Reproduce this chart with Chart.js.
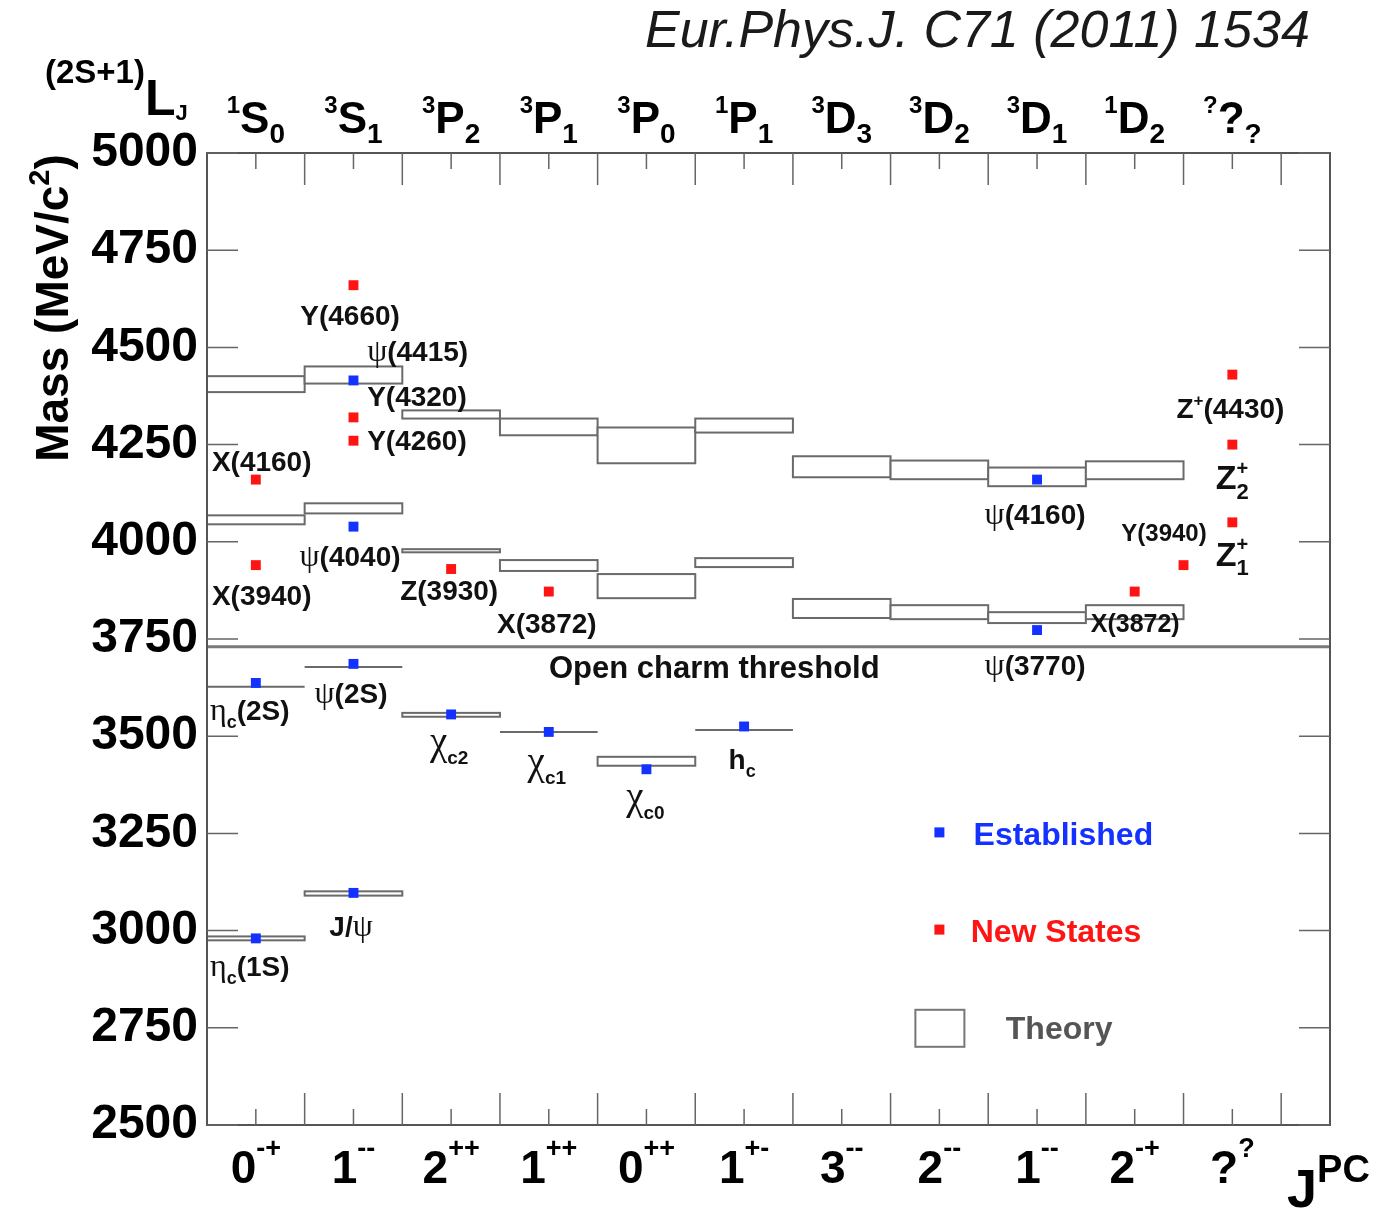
<!DOCTYPE html>
<html>
<head>
<meta charset="utf-8">
<title>Spectre du charmonium</title>
<script src="https://cdn.jsdelivr.net/npm/chart.js@4.4.1/dist/chart.umd.min.js"></script>
<style>
    html, body { margin: 0; padding: 0; background: #fff; }
    #cadre { width: 1391px; height: 1209px; }
</style>
</head>
<body>
<div id="cadre"><canvas id="spectre" width="1391" height="1209"></canvas></div>
<script>
// Colonnes : nombres quantiques J^PC (bas) et notation spectroscopique (haut)
const colonnesJPC = ['0^{-+}', '1^{--}', '2^{++}', '1^{++}', '0^{++}', '1^{+-}', '3^{--}', '2^{--}', '1^{--}', '2^{-+}', '?^{?}'];
const colonnesTerme = ['^{1}S_{0}', '^{3}S_{1}', '^{3}P_{2}', '^{3}P_{1}', '^{3}P_{0}', '^{1}P_{1}', '^{3}D_{3}', '^{3}D_{2}', '^{3}D_{1}', '^{1}D_{2}', '^{?}?_{?}'];

// Axe des masses (MeV/c²)
const masseMin = 2500;
const masseMax = 5000;
const massePas = 250;

// États établis (position en colonne, masse)
const etablisColonne = [0.5, 0.5, 1.5, 1.5, 1.5, 1.5, 2.5, 3.5, 4.5, 5.5, 8.5, 8.5];
const etablisMasse = [2980, 3637, 3097, 3686, 4039, 4415, 3556, 3511, 3415, 3525, 3773, 4160];

// Nouveaux états
const nouveauxColonne = [0.5, 0.5, 1.5, 1.5, 1.5, 2.5, 3.5, 9.5, 10, 10.5, 10.5, 10.5];
const nouveauxMasse = [3940, 4160, 4260, 4320, 4660, 3930, 3872, 3872, 3940, 4430, 4250, 4050];

// Prédictions théoriques : colonne, masse basse, masse haute
const theorieColonne = [0, 0, 0, 0, 1, 1, 1, 1, 2, 2, 2, 3, 3, 3, 4, 4, 4, 5, 5, 5, 6, 6, 7, 7, 8, 8, 9, 9];
const theorieBas = [2975, 3627, 4045, 4385, 3090, 3678, 4073, 4407, 3550, 3973, 4317, 3511, 3925, 4274, 3424, 3855, 4202, 3516, 3935, 4281, 3804, 4166, 3801, 4161, 3791, 4143, 3801, 4161];
const theorieHaut = [2985, 3627, 4068, 4426, 3101, 3678, 4099, 4451, 3560, 3981, 4338, 3511, 3953, 4317, 3447, 3917, 4294, 3516, 3958, 4317, 3853, 4220, 3837, 4209, 3819, 4191, 3837, 4207];

// Seuil de production de charme ouvert
const seuilCharme = 3730;

// Étiquettes des états (colonne, masse du centre du texte)
const etiquettes = [
    { texte: 'Y(4660)', x: 1.465, m: 4584, align: 'center' },
    { texte: 'ψ(4415)', x: 1.64, m: 4492, align: 'left' },
    { texte: 'Y(4320)', x: 1.64, m: 4376, align: 'left' },
    { texte: 'Y(4260)', x: 1.64, m: 4263, align: 'left' },
    { texte: 'X(4160)', x: 0.05, m: 4209, align: 'left' },
    { texte: 'ψ(4040)', x: 1.465, m: 3963, align: 'center' },
    { texte: 'X(3940)', x: 0.05, m: 3863, align: 'left' },
    { texte: 'Z(3930)', x: 2.48, m: 3876, align: 'center' },
    { texte: 'X(3872)', x: 3.48, m: 3791, align: 'center' },
    { texte: 'η_{c}(2S)', x: 0.03, m: 3568, align: 'left' },
    { texte: 'ψ(2S)', x: 1.475, m: 3611, align: 'center' },
    { texte: 'χ_{c2}', x: 2.48, m: 3485, align: 'center', taille: 34 },
    { texte: 'χ_{c1}', x: 3.48, m: 3434, align: 'center', taille: 34 },
    { texte: 'χ_{c0}', x: 4.49, m: 3344, align: 'center', taille: 34 },
    { texte: 'h_{c}', x: 5.48, m: 3442, align: 'center' },
    { texte: 'J/ψ', x: 1.475, m: 3013, align: 'center' },
    { texte: 'η_{c}(1S)', x: 0.03, m: 2908, align: 'left' },
    { texte: 'ψ(4160)', x: 8.48, m: 4071, align: 'center' },
    { texte: 'ψ(3770)', x: 8.48, m: 3683, align: 'center' },
    { texte: 'X(3872)', x: 9.05, m: 3791, align: 'left', taille: 25 },
    { texte: 'Y(3940)', x: 9.8, m: 4025, align: 'center', taille: 24 },
    { texte: 'Z^{+}(4430)', x: 10.48, m: 4345, align: 'center' },
    { texte: 'Z^{+}_{2}', x: 10.5, m: 4166, align: 'center', taille: 34 },
    { texte: 'Z^{+}_{1}', x: 10.5, m: 3970, align: 'center', taille: 34 },
    { texte: 'Open charm threshold', x: 5.195, m: 3678, align: 'center', taille: 31 }
];

const couleurEtabli = '#1432ff';
const couleurNouveau = '#ff1414';

// Découpage d'un texte avec exposants ^{..} et indices _{..}
function decouperTexte(str) {
    const morceaux = [];
    let i = 0;
    while (i < str.length) {
        if ((str[i] === '^' || str[i] === '_') && str[i + 1] === '{') {
            const fin = str.indexOf('}', i);
            morceaux.push({ t: str.slice(i + 2, fin), mode: str[i] === '^' ? 'sup' : 'sub' });
            i = fin + 1;
        } else {
            let j = i;
            while (j < str.length && !((str[j] === '^' || str[j] === '_') && str[j + 1] === '{')) j++;
            morceaux.push({ t: str.slice(i, j), mode: 'n' });
            i = j;
        }
    }
    return morceaux;
}

// Dessin d'un texte riche (grec en police serif, le reste en gras)
function texteRiche(ctx, str, x, y, o) {
    const taille = o.taille || 28;
    const supEch = o.supEch || 0.62, supMonte = o.supMonte || 0.45;
    const subEch = o.subEch || 0.62, subDescend = o.subDescend || 0.25;
    const sx = o.sx || 1;
    const pieces = [];
    let cx = 0, debutSup = 0, finSup = 0, modePrec = 'n';
    for (const m of decouperTexte(str)) {
        let t = taille, dy = 0;
        if (m.mode === 'sup') { t = taille * supEch; dy = -taille * supMonte; }
        if (m.mode === 'sub') { t = taille * subEch; dy = taille * subDescend; }
        if (m.mode === 'sub' && modePrec === 'sup') cx = debutSup;
        const debut = cx;
        const segments = m.t.match(/[\u0370-\u03ff]+|[^\u0370-\u03ff]+/g) || [];
        for (const seg of segments) {
            const grec = /[\u0370-\u03ff]/.test(seg);
            const police = grec
                ? `${Math.round(t * 1.15)}px "Liberation Serif", "DejaVu Serif", serif`
                : `${o.style || 'bold'} ${Math.round(t)}px "Liberation Sans", Arial, sans-serif`;
            ctx.font = police;
            const w = ctx.measureText(seg).width;
            pieces.push({ seg, police, x: cx, dy });
            cx += w;
        }
        if (m.mode === 'sup') { debutSup = debut; finSup = cx; }
        if (m.mode === 'sub' && modePrec === 'sup') cx = Math.max(cx, finSup);
        modePrec = m.mode;
    }
    const total = cx * sx;
    let x0 = x;
    if (o.align === 'center') x0 = x - total / 2;
    if (o.align === 'right') x0 = x - total;
    const yb = o.milieu ? y + taille * 0.36 : y;
    ctx.save();
    ctx.translate(x0, yb);
    ctx.scale(sx, 1);
    ctx.textAlign = 'left';
    ctx.textBaseline = 'alphabetic';
    ctx.fillStyle = o.couleur || '#111';
    for (const p of pieces) {
        ctx.font = p.police;
        ctx.fillText(p.seg, p.x, p.dy);
    }
    ctx.restore();
}

// Boîtes théoriques, seuil, cadre, graduations et textes
const pluginSpectre = {
    id: 'spectre',
    beforeDatasetsDraw(chart) {
        const { ctx, chartArea: ca, scales: { x, y } } = chart;
        ctx.save();
        const ys = y.getPixelForValue(seuilCharme);
        ctx.strokeStyle = '#7a7a7a';
        ctx.lineWidth = 3;
        ctx.beginPath();
        ctx.moveTo(ca.left, ys);
        ctx.lineTo(ca.right, ys);
        ctx.stroke();

        ctx.lineWidth = 2;
        ctx.strokeStyle = '#6a6a6a';
        ctx.fillStyle = '#fff';
        theorieColonne.forEach((c, i) => {
            const x0 = x.getPixelForValue(c), x1 = x.getPixelForValue(c + 1);
            const y0 = y.getPixelForValue(theorieHaut[i]), y1 = y.getPixelForValue(theorieBas[i]);
            if (y1 - y0 > 0.5) ctx.fillRect(x0, y0, x1 - x0, y1 - y0);
            ctx.strokeRect(x0, y0, x1 - x0, y1 - y0);
        });
        ctx.restore();
    },
    afterDraw(chart) {
        const { ctx, chartArea: ca, scales: { x, y } } = chart;
        ctx.save();

        // Cadre
        ctx.strokeStyle = '#555';
        ctx.lineWidth = 2;
        ctx.strokeRect(ca.left, ca.top, ca.right - ca.left, ca.bottom - ca.top);

        // Graduations
        ctx.strokeStyle = '#666';
        ctx.lineWidth = 1.5;
        ctx.beginPath();
        y.ticks.forEach(t => {
            const py = y.getPixelForValue(t.value);
            ctx.moveTo(ca.left, py); ctx.lineTo(ca.left + 31, py);
            ctx.moveTo(ca.right - 31, py); ctx.lineTo(ca.right, py);
        });
        for (let k = 0; k < colonnesJPC.length; k++) {
            const xm = x.getPixelForValue(k + 1);
            const xc = x.getPixelForValue(k + 0.5);
            ctx.moveTo(xm, ca.top); ctx.lineTo(xm, ca.top + 32);
            ctx.moveTo(xm, ca.bottom); ctx.lineTo(xm, ca.bottom - 32);
            ctx.moveTo(xc, ca.top); ctx.lineTo(xc, ca.top + 16);
            ctx.moveTo(xc, ca.bottom); ctx.lineTo(xc, ca.bottom - 16);
        }
        ctx.stroke();

        // Étiquettes des colonnes
        colonnesJPC.forEach((lab, i) => {
            const xc = x.getPixelForValue(i + 0.5);
            texteRiche(ctx, lab, xc, ca.bottom + 58, { taille: 46, align: 'center', supEch: 0.58, supMonte: 0.56, couleur: '#000' });
            texteRiche(ctx, colonnesTerme[i], xc, ca.top - 20, { taille: 44, align: 'center', supEch: 0.55, supMonte: 0.45, subEch: 0.64, subDescend: 0.23, couleur: '#000' });
        });
        texteRiche(ctx, '^{(2S+1)}L_{J}', 45, ca.top - 38, { taille: 50, align: 'left', supEch: 0.66, supMonte: 0.64, subEch: 0.44, subDescend: 0.1, couleur: '#000' });
        texteRiche(ctx, 'J^{PC}', ca.left + 1080, ca.bottom + 82, { taille: 54, align: 'left', supEch: 0.7, supMonte: 0.46, couleur: '#000' });

        // Titre de l'axe des masses
        ctx.save();
        ctx.translate(68, 308);
        ctx.rotate(-Math.PI / 2);
        texteRiche(ctx, 'Mass (MeV/c^{2})', 0, 0, { taille: 46, align: 'center', supEch: 0.62, supMonte: 0.42, couleur: '#000' });
        ctx.restore();

        // Référence
        texteRiche(ctx, 'Eur.Phys.J. C71 (2011) 1534', 645, 47, { taille: 52, style: 'italic', align: 'left', couleur: '#1a1a1a' });

        // Noms des états
        etiquettes.forEach(e => {
            texteRiche(ctx, e.texte, x.getPixelForValue(e.x), y.getPixelForValue(e.m),
                { taille: e.taille || 28, align: e.align, milieu: true, supEch: 0.6, supMonte: 0.42, subEch: e.taille === 34 && e.texte[0] === 'χ' ? 0.55 : 0.65, subDescend: 0.28 });
        });

        // Légende
        const lx = x.getPixelForValue(7.5);
        const ly1 = y.getPixelForValue(3250), ly2 = y.getPixelForValue(3000), ly3 = y.getPixelForValue(2750);
        ctx.fillStyle = couleurEtabli;
        ctx.fillRect(lx - 5, ly1 - 6, 10, 10);
        ctx.fillStyle = couleurNouveau;
        ctx.fillRect(lx - 5, ly2 - 6, 10, 10);
        ctx.fillStyle = '#fff';
        ctx.strokeStyle = '#777';
        ctx.lineWidth = 2;
        ctx.strokeRect(lx - 24, ly3 - 18, 49, 37);
        texteRiche(ctx, 'Established', x.getPixelForValue(7.85), ly1, { taille: 32, align: 'left', milieu: true, couleur: couleurEtabli });
        texteRiche(ctx, 'New States', x.getPixelForValue(7.82), ly2, { taille: 32, align: 'left', milieu: true, couleur: couleurNouveau });
        texteRiche(ctx, 'Theory', x.getPixelForValue(8.18), ly3, { taille: 32, align: 'left', milieu: true, couleur: '#555' });

        ctx.restore();
    }
};

Chart.defaults.font.family = '"Liberation Sans", Arial, sans-serif';

new Chart(document.getElementById('spectre'), {
    type: 'scatter',
    data: {
        datasets: [
            {
                label: 'Established',
                data: etablisColonne.map((c, i) => ({ x: c, y: etablisMasse[i] })),
                pointStyle: 'rect',
                pointRadius: 7,
                backgroundColor: couleurEtabli,
                borderWidth: 0
            },
            {
                label: 'New States',
                data: nouveauxColonne.map((c, i) => ({ x: c, y: nouveauxMasse[i] })),
                pointStyle: 'rect',
                pointRadius: 7,
                backgroundColor: couleurNouveau,
                borderWidth: 0
            }
        ]
    },
    options: {
        responsive: false,
        animation: false,
        devicePixelRatio: 1,
        layout: { padding: { top: 153, right: 61, bottom: 84, left: 0 } },
        plugins: {
            legend: { display: false },
            tooltip: { enabled: false }
        },
        scales: {
            x: {
                type: 'linear',
                min: 0,
                max: colonnesJPC.length + 0.5,
                display: false
            },
            y: {
                min: masseMin,
                max: masseMax,
                border: { display: false },
                grid: { display: false, drawTicks: false },
                ticks: {
                    stepSize: massePas,
                    color: '#000',
                    padding: 9,
                    font: { size: 48, weight: 'bold' },
                    callback: (valeur) => String(valeur)
                },
                afterFit: (scale) => { scale.width = 207; }
            }
        }
    },
    plugins: [pluginSpectre]
});
</script>
</body>
</html>
